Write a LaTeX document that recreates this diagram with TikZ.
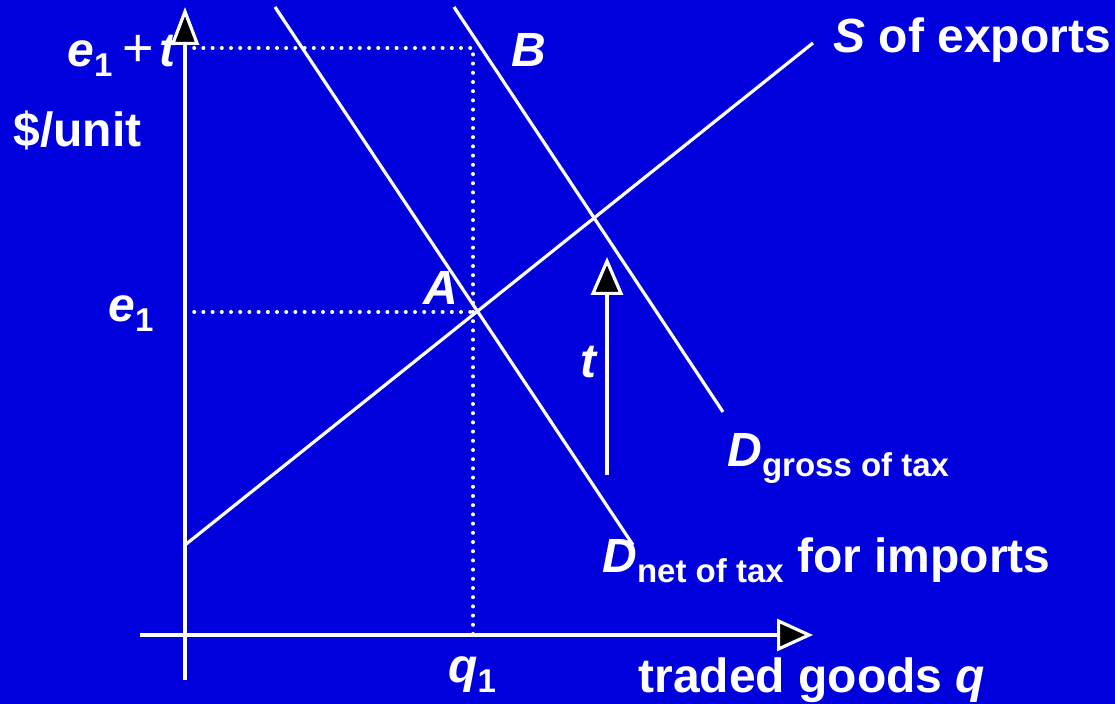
\documentclass[tikz,border=0pt]{standalone}
\usepackage{fontspec}
\setmainfont{Liberation Sans}
\usetikzlibrary{arrows.meta}
\definecolor{trdBlue}{HTML}{0000DD}
\newcommand\trdsub[1]{\raisebox{-4.75pt}{\fontsize{16.5pt}{18pt}\selectfont #1}}
\tikzset{
  trd line/.style={draw=white, line width=1.6pt},
  trd guide/.style={draw=white, line width=2pt, line cap=round, dash pattern=on 0pt off 4.6pt},
  trd tip/.style={-{Triangle[length=19pt, width=14pt, fill=black]}},
  trd label/.style={font=\fontsize{24pt}{28pt}\selectfont\bfseries, text=white, inner sep=0pt, anchor=base west},
}

\begin{document}
\begin{tikzpicture}[x=0.5pt, y=-0.5pt]
  \fill[trdBlue] (0,0) rectangle (1115,704);
  % Axis ends
  \coordinate (ytop) at (185,7);
  \coordinate (ybot) at (185,680);
  \coordinate (xleft) at (140,635);
  \coordinate (xright) at (813,635);
  % Guide points
  \coordinate (pB) at (185,48);
  \coordinate (pBq) at (473,48);
  \coordinate (pA) at (185,312);
  \coordinate (pAq) at (473,312);
  \coordinate (q1) at (473,635);
  % Curve ends
  \coordinate (s0) at (185,545);
  \coordinate (s1) at (813,43);
  \coordinate (dn0) at (275,7);
  \coordinate (dn1) at (633,545);
  \coordinate (dg0) at (454,7);
  \coordinate (dg1) at (723,412);
  \coordinate (t0) at (607,475);
  \coordinate (t1) at (607,257);

  % Dotted guides
  \draw[trd guide] (pB) -- (pBq) -- (q1);
  \draw[trd guide] (pA) -- (pAq);

  % Labels
  \node[trd label, anchor=base east] (le1t) at (178,67) {\textit{e}\trdsub{1}\hspace{5pt}{\mdseries\fontsize{27pt}{28pt}\selectfont+}\hspace{3pt}\textit{t}};
  \node[trd label] (lunit) at (13,147) {\$/unit};
  \node[trd label] (lB) at (511,67) {\textit{B}};
  \node[trd label] (lS) at (833,53) {\textit{S} of exports};
  \node[trd label] (lA) at (423,305) {\textit{A}};
  \node[trd label] (le1) at (108,322) {\textit{e}\trdsub{1}};
  \node[trd label] (lt) at (580,378) {\textit{t}};
  \node[trd label] (ldg) at (727,467) {\textit{D}\trdsub{gross of tax}};
  \node[trd label] (ldn) at (602,573) {\textit{D}\trdsub{net of tax} for imports};
  \node[trd label] (lq1) at (448,683) {\textit{q}\trdsub{1}};
  \node[trd label] (lq) at (638,693) {traded goods \textit{q}};

  % Supply and demand lines
  \draw[trd line] (s0) -- (s1);
  \draw[trd line] (dn0) -- (dn1);
  \draw[trd line] (dg0) -- (dg1);
  \draw[trd line, -{Triangle[length=19pt, width=16pt, fill=black]}] (t0) -- (t1);

  % Axes
  \draw[trd line, trd tip] (ybot) -- (ytop);
  \draw[trd line, -{Triangle[length=18pt, width=16pt, fill=black]}] (xleft) -- (xright);
\end{tikzpicture}
\end{document}
